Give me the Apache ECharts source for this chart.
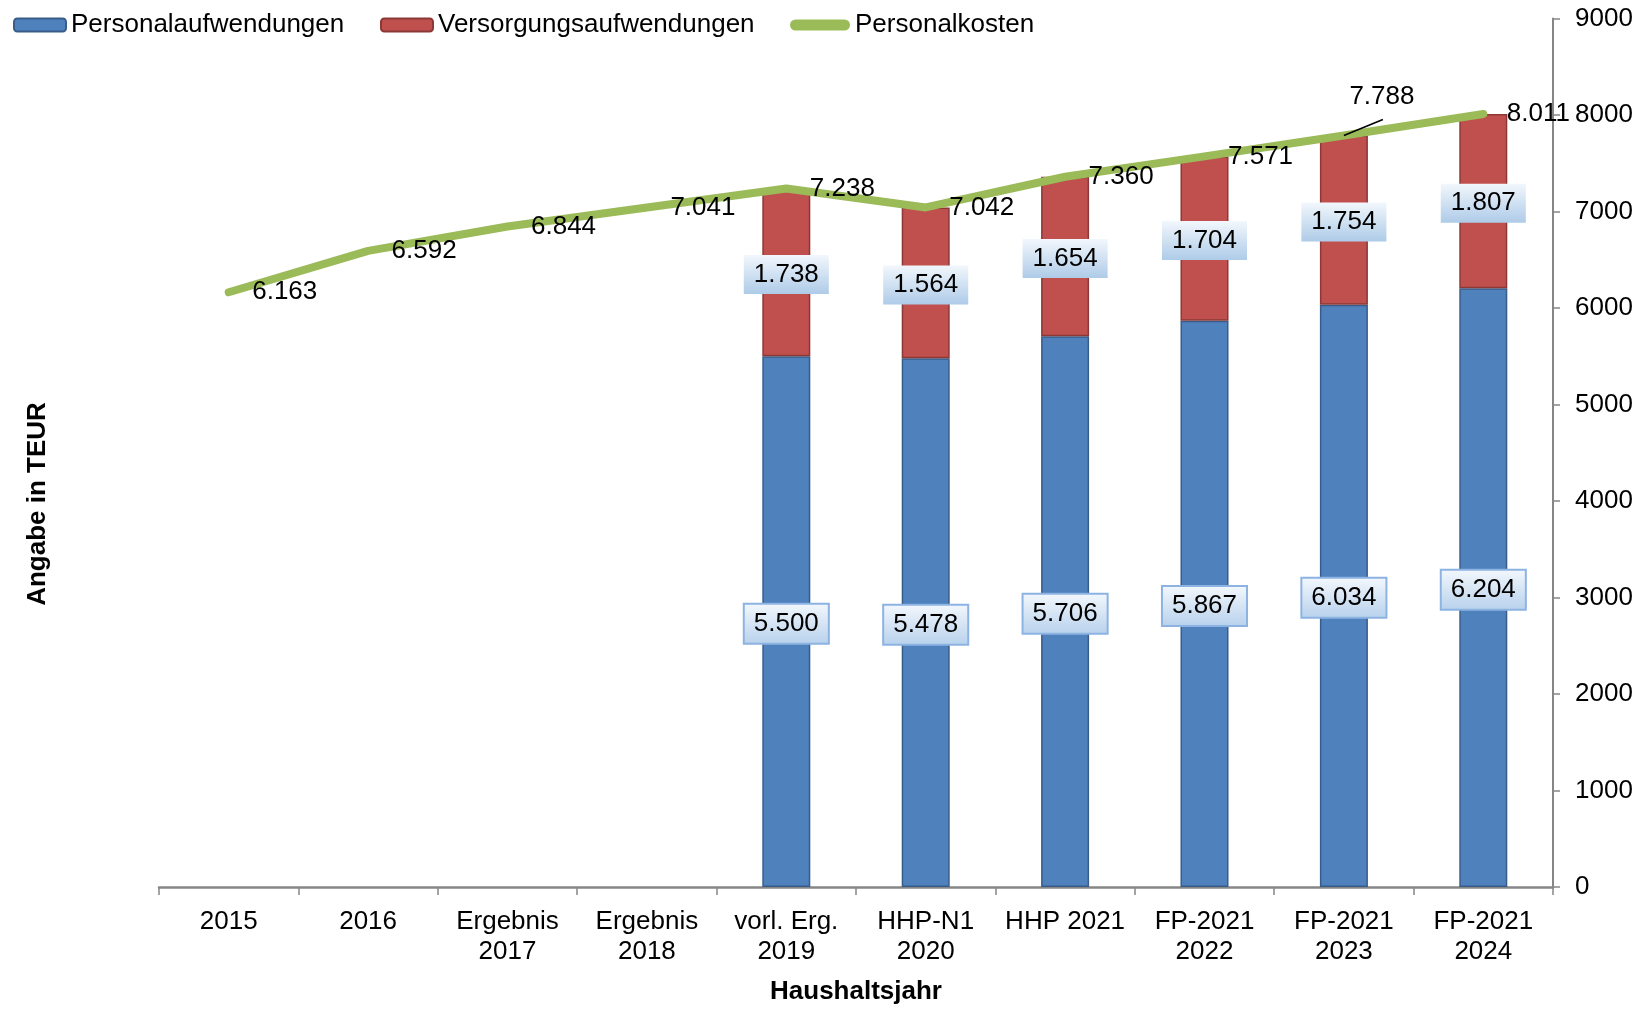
<!DOCTYPE html>
<html>
<head>
<meta charset="utf-8">
<title>Personalkosten</title>
<script src="https://cdn.jsdelivr.net/npm/echarts@6/dist/echarts.min.js"></script>
<style>
  html, body { margin: 0; padding: 0; background: #ffffff; }
  #chart { width: 1648px; height: 1010px; }
</style>
</head>
<body>
<div id="chart"></div>
<script>
// Haushaltsjahre (Kategorien der x-Achse)
const categories = [
  '2015', '2016', 'Ergebnis\n2017', 'Ergebnis\n2018', 'vorl. Erg.\n2019',
  'HHP-N1\n2020', 'HHP 2021', 'FP-2021\n2022', 'FP-2021\n2023', 'FP-2021\n2024'
];

// Werte in TEUR
const personalaufwendungen = [null, null, null, null, 5500, 5478, 5706, 5867, 6034, 6204];
const versorgungsaufwendungen = [null, null, null, null, 1738, 1564, 1654, 1704, 1754, 1807];
const personalkosten = [6163, 6592, 6844, 7041, 7238, 7042, 7360, 7571, 7788, 8011];

// Skala der Wertachse
const yMin = 0;
const yMax = 9000;
const yStep = 1000;

// Index des Linienwerts, dessen Beschriftung nach oben versetzt wird
const movedLabelIndex = 8;

const FONT = '"Liberation Sans", Arial, Helvetica, sans-serif';
const FS = 26;

// Tausenderpunkt nach deutscher Schreibweise
function deNumber(v) {
  return String(v).replace(/\B(?=(\d{3})+(?!\d))/g, '.');
}

function boxGradient(top, bottom) {
  return {
    type: 'linear', x: 0, y: 0, x2: 0, y2: 1,
    colorStops: [{ offset: 0, color: top }, { offset: 1, color: bottom }]
  };
}

const chart = echarts.init(document.getElementById('chart'), null, { renderer: 'canvas' });

const legendText = { fontFamily: FONT, fontSize: FS, color: '#000000' };

const titleGraphic = {
  id: 'ytitle',
  type: 'text',
  x: 38, y: 504,
  rotation: Math.PI / 2,
  style: {
    text: 'Angabe in TEUR',
    font: 'bold ' + FS + 'px ' + FONT,
    fill: '#000000',
    align: 'center',
    verticalAlign: 'middle'
  }
};

const option = {
  backgroundColor: '#ffffff',
  animation: false,
  textStyle: { fontFamily: FONT, color: '#000000' },
  grid: { left: 159, right: 95, top: 18.5, bottom: 118 },
  legend: [
    {
      data: ['Personalaufwendungen'],
      left: 13, top: 12, padding: 0,
      itemWidth: 52, itemHeight: 13,
      textStyle: legendText
    },
    {
      data: ['Versorgungsaufwendungen'],
      left: 380, top: 12, padding: 0,
      itemWidth: 52, itemHeight: 13,
      textStyle: legendText
    },
    {
      data: [{
        name: 'Personalkosten',
        icon: 'path://M5.5,0 L54.5,0 A5.5,5.5 0 0 1 54.5,11 L5.5,11 A5.5,5.5 0 0 1 5.5,0 Z'
      }],
      left: 790, top: 12, padding: 0,
      itemWidth: 60, itemHeight: 11,
      textStyle: legendText
    }
  ],
  xAxis: {
    type: 'category',
    data: categories,
    name: 'Haushaltsjahr',
    nameLocation: 'middle',
    nameGap: 92,
    nameTextStyle: { fontFamily: FONT, fontSize: FS, fontWeight: 'bold', color: '#000000' },
    axisLine: { show: true, lineStyle: { color: '#868686', width: 2.5 } },
    axisTick: { show: true, length: 8, lineStyle: { color: '#868686', width: 1.5 } },
    axisLabel: {
      fontFamily: FONT, fontSize: FS, color: '#000000',
      lineHeight: 30, margin: 20, interval: 0
    },
    splitLine: { show: false }
  },
  yAxis: {
    type: 'value',
    position: 'right',
    min: yMin, max: yMax, interval: yStep,
    axisLine: { show: true, lineStyle: { color: '#868686', width: 2 } },
    axisTick: { show: true, length: 7, lineStyle: { color: '#868686', width: 1.5 } },
    axisLabel: {
      fontFamily: FONT, fontSize: FS, color: '#000000', margin: 22,
      formatter: v => String(v)
    },
    splitLine: { show: false }
  },
  graphic: [titleGraphic],
  series: [
    {
      name: 'Personalaufwendungen',
      type: 'bar',
      stack: 'kosten',
      barWidth: 48,
      data: personalaufwendungen,
      itemStyle: { color: '#4F81BD', borderColor: '#385D8A', borderWidth: 1.5 },
      label: {
        show: true,
        position: 'inside',
        offset: [0, 2],
        formatter: p => deNumber(p.value),
        fontFamily: FONT, fontSize: FS, color: '#000000',
        lineHeight: 26,
        padding: [6, 9, 6, 9],
        backgroundColor: boxGradient('#f4f8fd', '#b7d1ec'),
        borderColor: '#8DB3E2',
        borderWidth: 2
      },
      z: 2
    },
    {
      name: 'Versorgungsaufwendungen',
      type: 'bar',
      stack: 'kosten',
      barWidth: 48,
      data: versorgungsaufwendungen,
      itemStyle: { color: '#C0504D', borderColor: '#8C3836', borderWidth: 1.5 },
      label: {
        show: true,
        position: 'inside',
        offset: [0, 2],
        formatter: p => deNumber(p.value),
        fontFamily: FONT, fontSize: FS, color: '#000000',
        lineHeight: 26,
        padding: [7, 10, 6, 10],
        backgroundColor: boxGradient('#f2f7fc', '#aecbe8')
      },
      z: 2
    },
    {
      name: 'Personalkosten',
      type: 'line',
      data: personalkosten,
      symbol: 'circle',
      symbolSize: 1,
      showSymbol: true,
      color: '#9BBB59',
      lineStyle: { color: '#9BBB59', width: 8, cap: 'round', join: 'round' },
      itemStyle: { color: '#9BBB59' },
      label: {
        show: true,
        position: 'right',
        distance: 23,
        offset: [0, 5],
        formatter: p => deNumber(p.value),
        fontFamily: FONT, fontSize: FS, color: '#000000'
      },
      labelLayout: params => params.dataIndex === movedLabelIndex ? { dx: -18, dy: -39 } : {},
      z: 5
    }
  ]
};

chart.setOption(option);

// Führungslinie von der Linie zur versetzten Beschriftung
const anchor = chart.convertToPixel({ seriesIndex: 2 }, [movedLabelIndex, personalkosten[movedLabelIndex]]);
chart.setOption({
  graphic: [
    titleGraphic,
    {
      id: 'leader',
      type: 'line',
      z: 10,
      shape: { x1: anchor[0], y1: anchor[1], x2: anchor[0] + 39, y2: anchor[1] - 16 },
      style: { stroke: '#000000', lineWidth: 1.5 }
    }
  ]
});
</script>
</body>
</html>
